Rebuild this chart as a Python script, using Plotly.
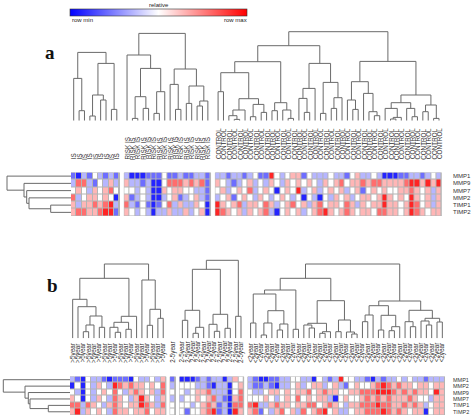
import plotly.graph_objects as go

W, H = 474, 419

# ---------------- data ----------------
ROWS_A = ["MMP1", "MMP9", "MMP7", "MMP2", "TIMP1", "TIMP2"]
ROWS_B = ["MMP1", "MMP2", "MMP9", "MMP7", "TIMP1", "TIMP2"]

GROUPS_A = ["IS", "RISK IS", "CONTROL"]
GROUPS_B = [">5year", "2-5year", "2-5year", "<2year"]

# relative expression (row-scaled), rows in ROWS_A order
IS_VALUES = [
    [-2, -3, -1, -2, 0, -1, -2, -1, -2],
    [-1, 2, 2, -1, -2, 0, -1, 1, -1],
    [0, 1, 0, -1, 1, 0, 1, 2, 0],
    [2, -1, 0, 1, 1, 0, 1, 0, -3],
    [1, -1, 1, 1, 2, 1, 2, 3, -1],
    [1, 2, 2, 1, 1, 2, 3, 3, -2],
]
RISK_VALUES = [
    [-1, -3, -3, -3, -2, -2, -2, 0, -2, -2, -1, -2, -2, -1, -1, -2],
    [1, -1, -1, -2, -1, -3, -3, 0, 2, 2, 2, 1, 2, 1, 2, -2],
    [0, 0, -1, 0, -1, -3, -3, 1, 0, 1, 1, 0, 0, -1, -1, -2],
    [1, -2, -1, 0, -1, -3, -3, -1, 0, 1, -2, -1, 0, 1, -1, -2],
    [2, -1, -2, 0, -2, -3, -2, 0, 2, -1, 1, -1, -1, 1, 0, -3],
    [1, 0, -1, 0, -1, -3, -1, -1, 1, -1, -1, 1, -1, 0, 1, -3],
]
CONTROL_VALUES = [
    [-1, -1, -2, -1, -1, -2, -1, 0, -2, -2, 3, 0, -1, 0, 1, 1, -2, 0, -1, -1, -1,
     0, -1, -1, -2, 0, 1, -1, -1, 0, -1, -3, -3, -3, -2, -2, -1, -1, -2, -1, 0, -1],
    [1, 0, -1, -2, -1, 0, 1, -1, 0, -1, 1, 0, -1, 1, 0, 1, 0, 1, 0, -1, 1,
     0, 1, 2, 0, 1, 1, 2, 1, 2, 2, 1, 1, 1, 1, 2, 3, 3, 1, 3, 1, 3],
    [0, 1, -1, 0, 1, 0, 2, -1, 0, 1, 0, -3, 0, 1, 0, 3, -1, 0, 1, -1, 0,
     1, 0, 1, -1, 0, 1, -2, 0, 1, 0, 1, 0, 0, 1, 1, 2, 1, 0, 1, -1, 1],
    [-1, 0, 1, -2, 0, 1, 0, -1, 1, 0, -1, 0, 1, 0, -1, 0, -3, 0, -1, -3, 0,
     -1, 1, 0, 1, -1, 0, 1, 1, 0, 1, 3, 1, 0, 1, 0, 3, 1, 0, 1, -1, 1],
    [3, 1, 0, 1, 2, -1, 1, 1, 0, 2, 1, -1, 0, 1, 2, 0, 1, -1, 1, 2, 0,
     1, 1, 0, 2, 1, -1, 1, 0, 1, 1, 3, 1, 1, 0, 1, 3, 2, 0, 1, -1, 1],
    [3, 2, 1, 0, 1, -1, 1, 0, 1, 2, -1, -3, 0, 1, 0, 1, -1, 0, 1, 2, 3,
     1, 0, 1, 2, 1, 0, 1, 1, 0, 2, 2, 1, 1, 0, 1, 3, 2, 1, 0, 1, 1],
]

# rows in ROWS_B order
GT5_VALUES = [
    [-1, -2, -3, 0, -1, -1, -2, -3, -2, -2, -2, -3, 0, -1, -1, 0, -1, 1],
    [-3, 0, -3, 0, -1, 1, 0, -1, 3, 2, 1, 2, 1, 1, 0, 1, 0, 2],
    [0, -1, -3, 0, -1, 0, 1, 0, 2, 0, -1, 1, 2, 1, 0, 1, -1, 2],
    [1, 0, -3, 0, -1, 1, 0, -1, 2, 1, 0, -1, 1, 3, 1, 0, -1, 1],
    [2, 2, -1, 2, 1, 0, -1, 1, 2, 1, 0, 1, 1, 3, 2, 1, -1, 2],
    [1, 3, -1, 1, 0, 1, 0, -1, 2, 1, 1, 0, 1, 1, 2, 0, 1, 1],
]
MID1_VALUES = [[-2], [-1], [0], [-1], [0], [0]]
MID_VALUES = [
    [-3, -3, -3, -2, -1, -2, -1, -1, -3, -1, 1, 0],
    [0, 0, 0, -1, -1, -2, -3, -1, -1, -3, 0, 1],
    [0, -1, 0, 1, 1, 2, -1, -1, -1, -3, 0, 2],
    [-1, 0, 0, 1, 0, 1, 2, -1, -2, -3, 1, 2],
    [0, 0, -1, 0, 1, 2, 1, -2, -1, -3, 2, 2],
    [0, -2, 0, 0, 1, 2, 3, -2, -1, -3, 3, 1],
]
LT2_VALUES = [
    [-1, -2, -3, -3, -2, -2, -1, -1, 0, 0, -1, -1, -3, 0, -1, -2, -1, 3, 0, 0, -1,
     -1, -2, -3, -1, -2, -1, -1, 0, -1, 0, -1, -1, -2, -1, -1, -1],
    [-1, -2, -2, -1, -2, -3, -1, -1, 0, 1, -1, 0, 1, 1, -1, 0, 1, -1, -2, 0, 1,
     0, 0, 1, 2, 3, 2, 1, 2, 1, 1, 0, 1, 1, 0, 1, 1],
    [0, -1, -1, 0, 1, 1, 0, 1, 0, 1, 1, 2, 0, 1, 2, 1, 1, 0, 0, 1, 1,
     2, 2, 2, 3, 3, 3, 2, 1, 2, 1, 2, 1, 1, 0, 3, 1],
    [0, 0, 0, 1, 0, -1, 0, 1, 0, 2, 0, 1, 0, 1, 1, -1, -3, 0, 1, 0, 0,
     1, 2, 1, 2, 1, 2, 1, 1, 1, 2, 1, 0, 0, -1, 1, 1],
    [2, 3, -1, -1, 1, 2, 1, 1, 0, 1, 1, 2, 2, 0, 1, 2, 1, 0, -1, 1, 1,
     2, 2, 2, 3, 2, 2, 1, 1, 2, 1, 2, 1, -1, 0, 1, 1],
    [1, 2, -2, 0, -1, 1, 2, 0, 1, -1, 2, 0, 1, 2, 3, 0, 1, -1, -1, 0, 1,
     1, 2, 2, 2, 3, 2, 1, 2, 1, 0, 1, 1, -3, 0, 1, 1],
]

# dendrograms: leaf = column index in group, node = [height, left, right]
IS_TREE = [68.3, [42.3, 0, [10, 1, 2]], [57.3, [25.7, [4.7, 3, 4], [20.7, 5, 6]], [11.3, 7, 8]]]
RISK_TREE = [87.3,
             [65.7, 0, [52.3, [24, [2.3, 1, 2], [12.3, 3, 4]], [29, [7.3, 5, 6], 7]]],
             [51.7, [36.3, 8, [11.3, 9, 10]], [34.7, [17.3, 11, 12], [19.7, [14.7, 13, 14], 15]]]]
CONTROL_TREE = [89,
                [75,
                 [59, [48, [29, 0, 1], [22, [10.7, [5, 2, [1.3, 3, 4]], 5], [16.3, [4, 6, 7], [8.3, 8, 9]]]],
                  [18, [10, 10, 11], [10.7, 12, [2.3, 13, 14]]]],
                 [57.3, [32.3, [22.3, 15, [8.3, 16, 17]], 18], [38.3, [7.3, 19, 20], [23, [12.3, 21, 22], 23]]]],
                [59.3,
                 [39, [20.7, 24, [11.3, 25, 26]], [27.3, 27, [9, 28, [5, 29, 30]]]],
                 [25.7, [18, [12.3, 31, [3.3, [1.7, 32, 33], 34]], [12.3, 35, [4, 36, 37]]],
                  [15.7, [9, 38, 39], [2.3, 40, 41]]]]]

GT5_TREE = [74.3,
            [60, [39, 0, [31.6, 1, [22.3, [13.3, [6.6, 2, 3], 4], [11, 5, 6]]]],
             [22, [16, [11, 7, [6, 8, 9]], [9, 10, 11]], 12]],
            [58.3, 13, [29, [13, 14, 15], [20, 16, 17]]]]
MID1_TREE = None
MID_TREE = [78, [69, [28, [18, 0, 1], [11, [5, 2, 3], 4]], [24, [14, 5, [7, 6, 7]], [10, 8, 9]]], [22, 10, 11]]
LT2_TREE = [74.3,
            [60,
             [48.3, [44.3, [15.3, 0, 1], [27.6, [15.3, [3.3, 2, 3], 4], [14.3, [8.3, 5, 6], 7]]], [9, 8, 9]],
             [37.6, [15, [13.3, 10, [10.3, 11, 12]], [6.6, [5, 13, 14], 15]],
              [18.3, [6.6, 16, 17], [6.3, 18, [4.3, 19, 20]]]]],
            [37.3,
             [32.6, [23.3, [16.6, 21, 22], 23], [23, [8.3, 24, 25], [11.6, [7.6, 26, 27], 28]]],
             [28, [16.6, 29, [11.6, 30, 31]], [20, [17.3, 32, [13.3, 33, 34]], [16.3, 35, 36]]]]]

ROW_TREE_A = [64, 0, [47, 1, [44.3, 2, [42, 3, [20.3, 4, 5]]]]]
ROW_TREE_B = [66.7, 0, [45, 1, [41.7, 2, [40, 3, [21.7, 4, 5]]]]]

# ---------------- layout geometry (pixels) ----------------
GAP_A, GAP_B = 0.9, 0.8
LINE = dict(color="#6a6a6a", width=1)
GRID = "#b4b4b4"
ZMIN, ZMAX = -3.5, 3.5
LABEL_FONT = "Liberation Sans, Arial, sans-serif"


def px(x):
    return x / W


def py(y):
    return 1 - y / H


def positions(groups_values, gap):
    pos, start = [], 0.0
    for vals in groups_values:
        n = len(vals[0])
        pos.append([start + j for j in range(n)])
        start += n + gap
    return pos


def tree_xy(node, leaf_pos):
    xs, ys = [], []

    def walk(n):
        if isinstance(n, int):
            return leaf_pos[n], 0.0
        h, l, r = n
        xl, hl = walk(l)
        xr, hr = walk(r)
        xs.extend([xl, xl, xr, xr, None])
        ys.extend([hl, h, h, hr, None])
        return (xl + xr) / 2, h

    walk(node)
    return xs, ys


fig = go.Figure()
annotations = []
shapes = []


def panel(values_list, trees, labels, row_names, row_tree, gap, xa, ya_d, ya_h, xa_r,
          x1, lab_bottom, row_dx, row_font):
    pos = positions(values_list, gap)
    total = pos[-1][-1] + 0.5
    for vals, p in zip(values_list, pos):
        fig.add_trace(go.Heatmap(z=vals, x=p, y=list(range(len(row_names))),
                                 coloraxis="coloraxis", xgap=1, ygap=1,
                                 xaxis=xa, yaxis=ya_h, hoverinfo="skip"))
        shapes.append(dict(type="rect", xref=xa, yref=ya_h, x0=p[0] - 0.5, x1=p[-1] + 0.5,
                           y0=-0.5, y1=len(row_names) - 0.5, fillcolor=GRID,
                           line=dict(color=GRID, width=1), layer="below"))
    dx, dy = [], []
    for tree, p in zip(trees, pos):
        if tree is None:
            continue
        a, b = tree_xy(tree, p)
        dx += a
        dy += b
    fig.add_trace(go.Scatter(x=dx, y=dy, mode="lines", line=LINE, xaxis=xa, yaxis=ya_d,
                             hoverinfo="skip", showlegend=False))
    a, b = tree_xy(row_tree, list(range(len(row_names))))
    fig.add_trace(go.Scatter(x=b, y=a, mode="lines", line=LINE, xaxis=xa_r, yaxis=ya_h,
                             hoverinfo="skip", showlegend=False))
    for lab, p in zip(labels, pos):
        for xv in p:
            annotations.append(dict(text=lab, x=xv, y=py(lab_bottom), xref=xa, yref="paper",
                                    textangle=-90, xanchor="center", yanchor="bottom",
                                    showarrow=False, borderpad=0,
                                    font=dict(family=LABEL_FONT, size=6.3, color="#333")))
    for i, name in enumerate(row_names):
        annotations.append(dict(text=name, x=px(x1 + row_dx), y=i, xref="paper", yref=ya_h,
                                xanchor="left", yanchor="middle", showarrow=False, borderpad=0,
                                font=dict(family=LABEL_FONT, size=row_font, color="#333")))
    return total


A = dict(x0=71, x1=441.7, dend_bottom=120.7, hm_top=172.5, hm_bot=216, lab_bottom=160.5)
B = dict(x0=70, x1=445, dend_bottom=338.3, hm_top=376.5, hm_bot=415, lab_bottom=363.5)

tot_a = panel([IS_VALUES, RISK_VALUES, CONTROL_VALUES], [IS_TREE, RISK_TREE, CONTROL_TREE],
              GROUPS_A, ROWS_A, ROW_TREE_A, GAP_A, "x", "y", "y2", "x3",
              A["x1"], A["lab_bottom"], 10, 6)
tot_b = panel([GT5_VALUES, MID1_VALUES, MID_VALUES, LT2_VALUES],
              [GT5_TREE, MID1_TREE, MID_TREE, LT2_TREE],
              GROUPS_B, ROWS_B, ROW_TREE_B, GAP_B, "x4", "y4", "y5", "x6",
              B["x1"], B["lab_bottom"], 7, 5.5)

hidden = dict(visible=False, showgrid=False, zeroline=False, fixedrange=True)

fig.update_layout(
    xaxis=dict(domain=[px(A["x0"]), px(A["x1"])], range=[-0.5, tot_a], anchor="y", **hidden),
    yaxis=dict(domain=[py(A["dend_bottom"]), py(A["dend_bottom"] - 100)], range=[0, 100],
               anchor="x", **hidden),
    yaxis2=dict(domain=[py(A["hm_bot"]), py(A["hm_top"])], range=[5.5, -0.5], anchor="x", **hidden),
    xaxis3=dict(domain=[0, px(A["x0"])], range=[A["x0"], 0], anchor="y2", **hidden),
    xaxis4=dict(domain=[px(B["x0"]), px(B["x1"])], range=[-0.5, tot_b], anchor="y4", **hidden),
    yaxis4=dict(domain=[py(B["dend_bottom"]), py(B["dend_bottom"] - 100)], range=[0, 100],
                anchor="x4", **hidden),
    yaxis5=dict(domain=[py(B["hm_bot"]), py(B["hm_top"])], range=[5.5, -0.5], anchor="x4", **hidden),
    xaxis6=dict(domain=[0, px(B["x0"])], range=[B["x0"], 0], anchor="y5", **hidden),
    coloraxis=dict(
        colorscale=[[0, "#0000ff"], [0.5, "#ffffff"], [1, "#ff0000"]],
        cmin=ZMIN, cmax=ZMAX,
        colorbar=dict(orientation="h", x=px(158.8), xanchor="center", y=py(8.7), yanchor="top",
                      len=177, lenmode="pixels", thickness=6.6, showticklabels=False, ticks="",
                      outlinewidth=0.6, outlinecolor="#333", xpad=0, ypad=0),
    ),
    width=W, height=H, margin=dict(l=0, r=0, t=0, b=0),
    paper_bgcolor="white", plot_bgcolor="white", showlegend=False,
)

annotations += [
    dict(text="relative", x=px(158.8), y=py(4.6), xref="paper", yref="paper", showarrow=False,
         xanchor="center", yanchor="middle", font=dict(family="Arial, sans-serif", size=6, color="#222")),
    dict(text="row min", x=px(70), y=py(20), xref="paper", yref="paper", showarrow=False,
         xanchor="left", yanchor="middle", font=dict(family="Arial, sans-serif", size=6, color="#222")),
    dict(text="row max", x=px(249), y=py(20), xref="paper", yref="paper", showarrow=False,
         xanchor="right", yanchor="middle", font=dict(family="Arial, sans-serif", size=6, color="#222")),
    dict(text="<b>a</b>", x=px(50), y=py(53), xref="paper", yref="paper", showarrow=False,
         xanchor="center", yanchor="middle",
         font=dict(family="Liberation Serif, DejaVu Serif, serif", size=19, color="#111")),
    dict(text="<b>b</b>", x=px(52.5), y=py(285), xref="paper", yref="paper", showarrow=False,
         xanchor="center", yanchor="middle",
         font=dict(family="Liberation Serif, DejaVu Serif, serif", size=19, color="#111")),
]

fig.update_layout(annotations=annotations, shapes=shapes)
fig.write_html("out.html", config={"displayModeBar": False},
               post_script="document.body.style.margin='0';document.body.style.overflow='hidden';")
